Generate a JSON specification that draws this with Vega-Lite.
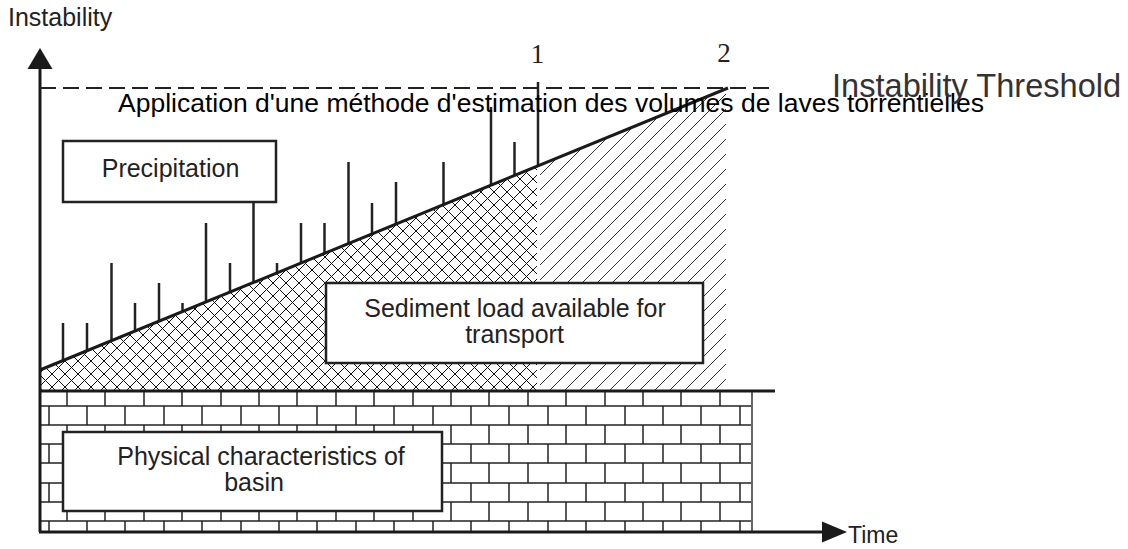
{
"$schema": "https://vega.github.io/schema/vega-lite/v6.json",
"width": 1128, "height": 549, "autosize": "none", "padding": 0,
"background": "white",
"config": {"view": {"stroke": null}},
"encoding": {
  "x": {"field": "x", "type": "quantitative", "scale": {"domain": [0, 1128], "range": [0, 1128], "nice": false, "zero": false}, "axis": null},
  "y": {"field": "y", "type": "quantitative", "scale": {"domain": [0, 549], "range": [0, 549], "nice": false, "zero": false}, "axis": null}
},
"layer": [
{"data": {"values": [
{"x":13,"y":400,"x2":537,"y2":-124},{"x":26,"y":400,"x2":537,"y2":-111},{"x":39,"y":400,"x2":537,"y2":-98},{"x":52,"y":400,"x2":537,"y2":-85},{"x":65,"y":400,"x2":537,"y2":-72},{"x":78,"y":400,"x2":537,"y2":-59},{"x":91,"y":400,"x2":537,"y2":-46},{"x":104,"y":400,"x2":537,"y2":-33},{"x":117,"y":400,"x2":537,"y2":-20},{"x":130,"y":400,"x2":537,"y2":-7},{"x":143,"y":400,"x2":537,"y2":6},{"x":156,"y":400,"x2":537,"y2":19},{"x":169,"y":400,"x2":537,"y2":32},{"x":182,"y":400,"x2":537,"y2":45},{"x":195,"y":400,"x2":537,"y2":58},{"x":208,"y":400,"x2":537,"y2":71},{"x":221,"y":400,"x2":537,"y2":84},{"x":234,"y":400,"x2":537,"y2":97},{"x":247,"y":400,"x2":537,"y2":110},{"x":260,"y":400,"x2":537,"y2":123},{"x":273,"y":400,"x2":537,"y2":136},{"x":286,"y":400,"x2":537,"y2":149},{"x":299,"y":400,"x2":537,"y2":162},{"x":312,"y":400,"x2":537,"y2":175},{"x":325,"y":400,"x2":537,"y2":188},{"x":338,"y":400,"x2":537,"y2":201},{"x":351,"y":400,"x2":537,"y2":214},{"x":364,"y":400,"x2":537,"y2":227},{"x":377,"y":400,"x2":537,"y2":240},{"x":390,"y":400,"x2":537,"y2":253},{"x":403,"y":400,"x2":537,"y2":266},{"x":416,"y":400,"x2":537,"y2":279},{"x":429,"y":400,"x2":537,"y2":292},{"x":442,"y":400,"x2":537,"y2":305},{"x":455,"y":400,"x2":537,"y2":318},{"x":468,"y":400,"x2":537,"y2":331},{"x":481,"y":400,"x2":537,"y2":344},{"x":494,"y":400,"x2":537,"y2":357},{"x":507,"y":400,"x2":537,"y2":370},{"x":520,"y":400,"x2":537,"y2":383},{"x":533,"y":400,"x2":537,"y2":396}
]}, "mark": {"type": "rule", "stroke": "#111", "strokeWidth": 1}, "encoding": {"x2": {"field": "x2"}, "y2": {"field": "y2"}}},
{"data": {"values": [
{"x":0,"y":348,"x2":52,"y2":400},{"x":0,"y":335,"x2":65,"y2":400},{"x":0,"y":322,"x2":78,"y2":400},{"x":0,"y":309,"x2":91,"y2":400},{"x":0,"y":296,"x2":104,"y2":400},{"x":0,"y":283,"x2":117,"y2":400},{"x":0,"y":270,"x2":130,"y2":400},{"x":0,"y":257,"x2":143,"y2":400},{"x":0,"y":244,"x2":156,"y2":400},{"x":0,"y":231,"x2":169,"y2":400},{"x":0,"y":218,"x2":182,"y2":400},{"x":0,"y":205,"x2":195,"y2":400},{"x":0,"y":192,"x2":208,"y2":400},{"x":0,"y":179,"x2":221,"y2":400},{"x":0,"y":166,"x2":234,"y2":400},{"x":0,"y":153,"x2":247,"y2":400},{"x":0,"y":140,"x2":260,"y2":400},{"x":0,"y":127,"x2":273,"y2":400},{"x":0,"y":114,"x2":286,"y2":400},{"x":0,"y":101,"x2":299,"y2":400},{"x":0,"y":88,"x2":312,"y2":400},{"x":0,"y":75,"x2":325,"y2":400},{"x":0,"y":62,"x2":338,"y2":400},{"x":0,"y":49,"x2":351,"y2":400},{"x":0,"y":36,"x2":364,"y2":400},{"x":0,"y":23,"x2":377,"y2":400},{"x":0,"y":10,"x2":390,"y2":400},{"x":0,"y":-3,"x2":403,"y2":400},{"x":0,"y":-16,"x2":416,"y2":400},{"x":0,"y":-29,"x2":429,"y2":400},{"x":0,"y":-42,"x2":442,"y2":400},{"x":0,"y":-55,"x2":455,"y2":400},{"x":0,"y":-68,"x2":468,"y2":400},{"x":0,"y":-81,"x2":481,"y2":400},{"x":0,"y":-94,"x2":494,"y2":400},{"x":0,"y":-107,"x2":507,"y2":400},{"x":0,"y":-120,"x2":520,"y2":400},{"x":0,"y":-133,"x2":533,"y2":400},{"x":0,"y":-146,"x2":537,"y2":391},{"x":0,"y":-159,"x2":537,"y2":378},{"x":0,"y":-172,"x2":537,"y2":365},{"x":0,"y":-185,"x2":537,"y2":352},{"x":0,"y":-198,"x2":537,"y2":339},{"x":0,"y":-211,"x2":537,"y2":326},{"x":0,"y":-224,"x2":537,"y2":313},{"x":0,"y":-237,"x2":537,"y2":300},{"x":0,"y":-250,"x2":537,"y2":287},{"x":0,"y":-263,"x2":537,"y2":274},{"x":0,"y":-276,"x2":537,"y2":261},{"x":0,"y":-289,"x2":537,"y2":248},{"x":0,"y":-302,"x2":537,"y2":235},{"x":0,"y":-315,"x2":537,"y2":222},{"x":0,"y":-328,"x2":537,"y2":209},{"x":0,"y":-341,"x2":537,"y2":196},{"x":0,"y":-354,"x2":537,"y2":183},{"x":0,"y":-367,"x2":537,"y2":170}
]}, "mark": {"type": "rule", "stroke": "#111", "strokeWidth": 1}, "encoding": {"x2": {"field": "x2"}, "y2": {"field": "y2"}}},
{"data": {"values": [
{"x":540,"y":175,"x2":726,"y2":-11},{"x":540,"y":190,"x2":726,"y2":4},{"x":540,"y":205,"x2":726,"y2":19},{"x":540,"y":220,"x2":726,"y2":34},{"x":540,"y":235,"x2":726,"y2":49},{"x":540,"y":250,"x2":726,"y2":64},{"x":540,"y":265,"x2":726,"y2":79},{"x":540,"y":280,"x2":726,"y2":94},{"x":540,"y":295,"x2":726,"y2":109},{"x":540,"y":310,"x2":726,"y2":124},{"x":540,"y":325,"x2":726,"y2":139},{"x":540,"y":340,"x2":726,"y2":154},{"x":540,"y":355,"x2":726,"y2":169},{"x":540,"y":370,"x2":726,"y2":184},{"x":540,"y":385,"x2":726,"y2":199},{"x":540,"y":400,"x2":726,"y2":214},{"x":555,"y":400,"x2":726,"y2":229},{"x":570,"y":400,"x2":726,"y2":244},{"x":585,"y":400,"x2":726,"y2":259},{"x":600,"y":400,"x2":726,"y2":274},{"x":615,"y":400,"x2":726,"y2":289},{"x":630,"y":400,"x2":726,"y2":304},{"x":645,"y":400,"x2":726,"y2":319},{"x":660,"y":400,"x2":726,"y2":334},{"x":675,"y":400,"x2":726,"y2":349},{"x":690,"y":400,"x2":726,"y2":364},{"x":705,"y":400,"x2":726,"y2":379}
]}, "mark": {"type": "rule", "stroke": "#333", "strokeWidth": 1}, "encoding": {"x2": {"field": "x2"}, "y2": {"field": "y2"}}},
{"data": {"values": [{"x":0,"x2":39,"y":0,"y2":549},{"x":0,"x2":1128,"y":391,"y2":549}]},
 "mark": {"type": "rect", "fill": "white", "strokeWidth": 0}, "encoding": {"x2": {"field": "x2"}, "y2": {"field": "y2"}}},
{"data": {"values": [{"x":39,"y":0,"y2":370.4},{"x":728,"y":0,"y2":88}]},
 "mark": {"type": "area", "fill": "white", "opacity": 1}, "encoding": {"y2": {"field": "y2"}}},
{"data": {"values": [{"x":40,"x2":752,"y":406},{"x":40,"x2":752,"y":425},{"x":40,"x2":752,"y":444},{"x":40,"x2":752,"y":463},{"x":40,"x2":752,"y":483},{"x":40,"x2":752,"y":502},{"x":40,"x2":752,"y":521}]},
 "mark": {"type": "rule", "stroke": "#222", "strokeWidth": 1.5}, "encoding": {"x2": {"field": "x2"}}},
{"data": {"values": [
{"x":67,"y":391,"y2":406},{"x":105,"y":391,"y2":406},{"x":144,"y":391,"y2":406},{"x":182,"y":391,"y2":406},{"x":221,"y":391,"y2":406},{"x":259,"y":391,"y2":406},{"x":297,"y":391,"y2":406},{"x":336,"y":391,"y2":406},{"x":374,"y":391,"y2":406},{"x":413,"y":391,"y2":406},{"x":451,"y":391,"y2":406},{"x":489,"y":391,"y2":406},{"x":528,"y":391,"y2":406},{"x":566,"y":391,"y2":406},{"x":605,"y":391,"y2":406},{"x":643,"y":391,"y2":406},{"x":681,"y":391,"y2":406},{"x":720,"y":391,"y2":406},
{"x":67,"y":425,"y2":444},{"x":105,"y":425,"y2":444},{"x":144,"y":425,"y2":444},{"x":182,"y":425,"y2":444},{"x":221,"y":425,"y2":444},{"x":259,"y":425,"y2":444},{"x":297,"y":425,"y2":444},{"x":336,"y":425,"y2":444},{"x":374,"y":425,"y2":444},{"x":413,"y":425,"y2":444},{"x":451,"y":425,"y2":444},{"x":489,"y":425,"y2":444},{"x":528,"y":425,"y2":444},{"x":566,"y":425,"y2":444},{"x":605,"y":425,"y2":444},{"x":643,"y":425,"y2":444},{"x":681,"y":425,"y2":444},{"x":720,"y":425,"y2":444},
{"x":67,"y":463,"y2":483},{"x":105,"y":463,"y2":483},{"x":144,"y":463,"y2":483},{"x":182,"y":463,"y2":483},{"x":221,"y":463,"y2":483},{"x":259,"y":463,"y2":483},{"x":297,"y":463,"y2":483},{"x":336,"y":463,"y2":483},{"x":374,"y":463,"y2":483},{"x":413,"y":463,"y2":483},{"x":451,"y":463,"y2":483},{"x":489,"y":463,"y2":483},{"x":528,"y":463,"y2":483},{"x":566,"y":463,"y2":483},{"x":605,"y":463,"y2":483},{"x":643,"y":463,"y2":483},{"x":681,"y":463,"y2":483},{"x":720,"y":463,"y2":483},
{"x":67,"y":502,"y2":521},{"x":105,"y":502,"y2":521},{"x":144,"y":502,"y2":521},{"x":182,"y":502,"y2":521},{"x":221,"y":502,"y2":521},{"x":259,"y":502,"y2":521},{"x":297,"y":502,"y2":521},{"x":336,"y":502,"y2":521},{"x":374,"y":502,"y2":521},{"x":413,"y":502,"y2":521},{"x":451,"y":502,"y2":521},{"x":489,"y":502,"y2":521},{"x":528,"y":502,"y2":521},{"x":566,"y":502,"y2":521},{"x":605,"y":502,"y2":521},{"x":643,"y":502,"y2":521},{"x":681,"y":502,"y2":521},{"x":720,"y":502,"y2":521},
{"x":49,"y":406,"y2":425},{"x":87,"y":406,"y2":425},{"x":125,"y":406,"y2":425},{"x":164,"y":406,"y2":425},{"x":202,"y":406,"y2":425},{"x":241,"y":406,"y2":425},{"x":279,"y":406,"y2":425},{"x":317,"y":406,"y2":425},{"x":356,"y":406,"y2":425},{"x":394,"y":406,"y2":425},{"x":433,"y":406,"y2":425},{"x":471,"y":406,"y2":425},{"x":509,"y":406,"y2":425},{"x":548,"y":406,"y2":425},{"x":586,"y":406,"y2":425},{"x":625,"y":406,"y2":425},{"x":663,"y":406,"y2":425},{"x":701,"y":406,"y2":425},{"x":740,"y":406,"y2":425},
{"x":49,"y":444,"y2":463},{"x":87,"y":444,"y2":463},{"x":125,"y":444,"y2":463},{"x":164,"y":444,"y2":463},{"x":202,"y":444,"y2":463},{"x":241,"y":444,"y2":463},{"x":279,"y":444,"y2":463},{"x":317,"y":444,"y2":463},{"x":356,"y":444,"y2":463},{"x":394,"y":444,"y2":463},{"x":433,"y":444,"y2":463},{"x":471,"y":444,"y2":463},{"x":509,"y":444,"y2":463},{"x":548,"y":444,"y2":463},{"x":586,"y":444,"y2":463},{"x":625,"y":444,"y2":463},{"x":663,"y":444,"y2":463},{"x":701,"y":444,"y2":463},{"x":740,"y":444,"y2":463},
{"x":49,"y":483,"y2":502},{"x":87,"y":483,"y2":502},{"x":125,"y":483,"y2":502},{"x":164,"y":483,"y2":502},{"x":202,"y":483,"y2":502},{"x":241,"y":483,"y2":502},{"x":279,"y":483,"y2":502},{"x":317,"y":483,"y2":502},{"x":356,"y":483,"y2":502},{"x":394,"y":483,"y2":502},{"x":433,"y":483,"y2":502},{"x":471,"y":483,"y2":502},{"x":509,"y":483,"y2":502},{"x":548,"y":483,"y2":502},{"x":586,"y":483,"y2":502},{"x":625,"y":483,"y2":502},{"x":663,"y":483,"y2":502},{"x":701,"y":483,"y2":502},{"x":740,"y":483,"y2":502},
{"x":49,"y":521,"y2":532},{"x":87,"y":521,"y2":532},{"x":125,"y":521,"y2":532},{"x":164,"y":521,"y2":532},{"x":202,"y":521,"y2":532},{"x":241,"y":521,"y2":532},{"x":279,"y":521,"y2":532},{"x":317,"y":521,"y2":532},{"x":356,"y":521,"y2":532},{"x":394,"y":521,"y2":532},{"x":433,"y":521,"y2":532},{"x":471,"y":521,"y2":532},{"x":509,"y":521,"y2":532},{"x":548,"y":521,"y2":532},{"x":586,"y":521,"y2":532},{"x":625,"y":521,"y2":532},{"x":663,"y":521,"y2":532},{"x":701,"y":521,"y2":532},{"x":740,"y":521,"y2":532}
]}, "mark": {"type": "rule", "stroke": "#222", "strokeWidth": 1.5}, "encoding": {"y2": {"field": "y2"}}},
{"data": {"values": [{"x":752,"y":391,"y2":532}]}, "mark": {"type": "rule", "stroke": "#666", "strokeWidth": 2}, "encoding": {"y2": {"field": "y2"}}},
{"data": {"values": [
{"x":63,"y":323,"y2":360.6},{"x":87,"y":323,"y2":350.7},{"x":111.5,"y":263,"y2":340.7},{"x":135,"y":303,"y2":331.1},{"x":159,"y":283,"y2":321.2},{"x":182.5,"y":303,"y2":311.6},{"x":206,"y":223,"y2":302},{"x":230,"y":263,"y2":292.1},{"x":253.5,"y":202,"y2":282.5},{"x":277,"y":263,"y2":272.8},{"x":301,"y":223,"y2":263},{"x":324.5,"y":223,"y2":253.4},{"x":348.5,"y":162,"y2":243.5},{"x":372,"y":203,"y2":233.9},{"x":396,"y":182,"y2":224},{"x":443.5,"y":162,"y2":204.6},{"x":491,"y":107,"y2":185.1},{"x":514.5,"y":142,"y2":175.5},{"x":538,"y":82,"y2":165.8}
]}, "mark": {"type": "rule", "stroke": "#222", "strokeWidth": 2.5}, "encoding": {"y2": {"field": "y2"}}},
{"data": {"values": [{"x":40,"y":370,"x2":728,"y2":88},{"x":40,"y":391,"x2":775,"y2":391},{"x":40,"y":62,"x2":40,"y2":532},{"x":39,"y":532,"x2":830,"y2":532}]},
 "mark": {"type": "rule", "stroke": "#1a1a1a", "strokeWidth": 3}, "encoding": {"x2": {"field": "x2"}, "y2": {"field": "y2"}}},
{"data": {"values": [{"x":40,"x2":775,"y":88}]},
 "mark": {"type": "rule", "stroke": "#222", "strokeWidth": 2, "strokeDash": [16, 7]}, "encoding": {"x2": {"field": "x2"}}},
{"data": {"values": [{"x":63,"x2":276,"y":141,"y2":202},{"x":326,"x2":703,"y":283,"y2":363},{"x":63,"x2":442,"y":432,"y2":511}]},
 "mark": {"type": "rect", "fill": "white", "stroke": "#222", "strokeWidth": 2.5}, "encoding": {"x2": {"field": "x2"}, "y2": {"field": "y2"}}},
{"data": {"values": [{"x":40,"y":58.5}]},
 "mark": {"type": "point", "shape": "M0,-0.84L1,0.84L-1,0.84Z", "size": 625, "filled": true, "fill": "#1a1a1a", "opacity": 1, "strokeWidth": 0}},
{"data": {"values": [{"x":834.5,"y":532}]},
 "mark": {"type": "point", "shape": "M1,0L-1,-0.84L-1,0.84Z", "size": 625, "filled": true, "fill": "#1a1a1a", "opacity": 1, "strokeWidth": 0}},
{"data": {"values": [{"x":170.5,"y":177,"t":"Precipitation"},{"x":515,"y":317,"t":"Sediment load available for"},{"x":514.5,"y":343,"t":"transport"},{"x":261,"y":465,"t":"Physical characteristics of"},{"x":254,"y":491,"t":"basin"}]},
 "mark": {"type": "text", "font": "Liberation Sans", "fontSize": 25, "align": "center", "baseline": "alphabetic", "fill": "#222"}, "encoding": {"text": {"field": "t"}}},
{"data": {"values": [{"x":118,"y":112,"t":"Application d'une méthode d'estimation des volumes de laves torrentielles"}]},
 "mark": {"type": "text", "font": "Liberation Sans", "fontSize": 26.5, "align": "left", "baseline": "alphabetic", "fill": "#000"}, "encoding": {"text": {"field": "t"}}},
{"data": {"values": [{"x":8,"y":26,"t":"Instability"}]},
 "mark": {"type": "text", "font": "Liberation Sans", "fontSize": 25, "align": "left", "baseline": "alphabetic", "fill": "#222"}, "encoding": {"text": {"field": "t"}}},
{"data": {"values": [{"x":848,"y":543,"t":"Time"}]},
 "mark": {"type": "text", "font": "Liberation Sans", "fontSize": 23, "align": "left", "baseline": "alphabetic", "fill": "#222"}, "encoding": {"text": {"field": "t"}}},
{"data": {"values": [{"x":832,"y":97,"t":"Instability Threshold"}]},
 "mark": {"type": "text", "font": "Liberation Sans", "fontSize": 32.6, "align": "left", "baseline": "alphabetic", "fill": "#333"}, "encoding": {"text": {"field": "t"}}},
{"data": {"values": [{"x":537.5,"y":63,"t":"1"},{"x":724,"y":62,"t":"2"}]},
 "mark": {"type": "text", "font": "Liberation Serif", "fontSize": 27, "align": "center", "baseline": "alphabetic", "fill": "#222"}, "encoding": {"text": {"field": "t"}}}
]
}
